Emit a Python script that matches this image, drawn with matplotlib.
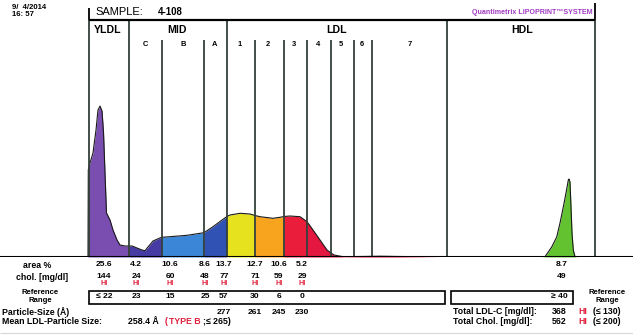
import numpy as np
import matplotlib
matplotlib.use("Agg")
import matplotlib.pyplot as plt
from matplotlib.patches import Rectangle

plt.rcParams['font.family'] = ['Liberation Sans', 'DejaVu Sans']

# densitometry scan (migration position, height above baseline)
scan_x = [88, 88.3, 90, 93, 96, 98, 100, 102, 103.5, 105, 106.5, 110, 113, 117, 120, 125,
          129, 132, 137, 142, 145, 148, 153, 161.5, 170, 187, 204, 213, 223, 227, 230, 240,
          250, 255, 260, 273, 280, 284, 290, 300, 307, 313, 320, 327, 331, 334, 343, 360,
          380, 400, 420, 440]
scan_h = [0, 87, 94, 104, 127, 147, 151, 146, 125, 84, 44, 37, 27, 17, 12, 11,
          11, 11, 9, 7, 6.3, 10, 16, 19.7, 20.3, 21.7, 24.3, 30.3, 37.7, 40.5, 42, 43.7,
          43, 41.5, 40.3, 38.7, 39.7, 40.5, 41, 40.3, 35.3, 27, 17, 7, 4, 2, 0.3, 0.5,
          0.8, 0.5, 0.3, 0]
hdl_x = [540, 545, 551.7, 556.7, 560, 563.3, 566, 568.3, 569, 570, 571, 572, 573.3, 575, 580]
hdl_h = [0, 0.3, 10, 20, 34, 50, 64, 77, 78, 75, 50, 24, 7, 0.3, 0]

# fraction boundaries
major_bounds = [88.5, 129, 227, 447, 595]
minor_bounds = [161.5, 204, 255, 284, 307, 331, 353.5, 371.5]
frac_edges = [88, 129, 161.5, 204, 227, 255, 284, 307, 331, 440]
frac_colors = ['#7a4db0', '#463ba2', '#3c86d8', '#2f52b4', '#e6e21e', '#f9a41e',
               '#ea1d3a', '#e3173f', '#e3173f']

groups = ['YLDL', 'MID', 'LDL', 'HDL']
group_x = [108, 177, 337, 522]
subs = ['C', 'B', 'A', '1', '2', '3', '4', '5', '6', '7']
sub_x = [145, 183, 214, 240, 268, 294, 318, 341, 362, 410]

col_x = [104, 136, 170, 205, 224, 255, 279, 302]
area_pct = ['25.6', '4.2', '10.6', '8.6', '13.7', '12.7', '10.6', '5.2']
chol = ['144', '24', '60', '48', '77', '71', '59', '29']
ref_range = ['\u2264 22', '23', '15', '25', '57', '30', '6', '0']
particle = ['277', '261', '245', '230']
hdl_col = 562
hdl_area, hdl_chol, hdl_ref = '8.7', '49', '\u2265 40'

fig = plt.figure(figsize=(6.33, 3.36), dpi=100)
page = fig.add_axes([0, 0, 1, 1])
page.set_xlim(0, 633)
page.set_ylim(336, 0)
page.axis('off')

scan = fig.add_axes([0, 79 / 336, 1, 257 / 336])
scan.set_xlim(0, 633)
scan.set_ylim(0, 257)
scan.axis('off')

sx = np.array(scan_x)
sh = np.array(scan_h)
for i, c in enumerate(frac_colors):
    m = (sx >= frac_edges[i]) & (sx <= frac_edges[i + 1])
    scan.fill_between(sx[m], 0, sh[m], color=c, lw=0)
scan.plot(sx, sh, color='#1a1a1a', lw=0.8)
scan.fill_between(hdl_x, 0, hdl_h, color='#62c230', lw=0)
scan.plot(hdl_x, hdl_h, color='#1a1a1a', lw=0.8)

# grid of fraction lines
lc = '#34403a'
for b in major_bounds:
    scan.vlines(b, 0, 237, color=lc, lw=1.3)
for b in minor_bounds:
    scan.vlines(b, 0, 217, color=lc, lw=1.3)
scan.vlines(88.5, 237, 249, color='k', lw=1.3)
scan.vlines(595, 237, 254, color='k', lw=1.3)
scan.hlines(237, 88.5, 595, color='k', lw=1.6)
scan.hlines(0, 0, 633, color='k', lw=1.5)
page.hlines(333, 0, 633, color='#d8d8d8', lw=0.8)

for g, x in zip(groups, group_x):
    page.text(x, 30, g, ha='center', va='center', fontsize=7.6, weight='bold')
for s, x in zip(subs, sub_x):
    page.text(x, 44, s, ha='center', va='center', fontsize=5.4, weight='bold')

page.text(12, 7.5, '9/  4/2014', fontsize=5.6, weight='bold', va='center')
page.text(12, 15, '16: 57', fontsize=5.6, weight='bold', va='center')
page.text(95, 12, 'SAMPLE:', fontsize=8, va='center')
page.text(158, 12, '4-108', fontsize=7, weight='bold', va='center')
page.text(593, 12, 'Quantimetrix LIPOPRINT\u2122SYSTEM', fontsize=5.1, weight='bold',
          color='#a03cc0', ha='right', va='center')

# table
fs = 6.1
lab = dict(fontsize=6.3, weight='bold', va='center')
small = dict(fontsize=5.6, weight='bold', va='center', ha='center')
page.text(37, 265, 'area %', ha='center', **lab)
page.text(42, 278, 'chol. [mg/dl]', ha='center', **lab)
page.text(40, 292.5, 'Reference', **small)
page.text(40, 300, 'Range', **small)
page.text(607, 292.5, 'Reference', **small)
page.text(607, 300, 'Range', **small)
num = dict(fontsize=fs, weight='bold', va='center', ha='center')
for x, a, c, r in zip(col_x, area_pct, chol, ref_range):
    page.text(x, 265, a, **num)
    page.text(x, 277, c, **num)
    page.text(x, 283.5, 'HI', ha='center', va='center', fontsize=5.2, color='#e0203c', weight='bold')
    page.text(x, 297, r, **num)
for x, p in zip(col_x[4:], particle):
    page.text(x, 312, p, **num)
page.text(hdl_col, 265, hdl_area, **num)
page.text(hdl_col, 277, hdl_chol, **num)
page.text(568, 297, hdl_ref, ha='right', va='center', fontsize=fs, weight='bold')
page.add_patch(Rectangle((89, 290.5), 356, 13, fill=False, lw=1.2, ec='k'))
page.add_patch(Rectangle((451, 290.5), 122, 13, fill=False, lw=1.2, ec='k'))

page.text(2, 312, 'Particle-Size (\u00c5)', **lab)
page.text(2, 322, 'Mean LDL-Particle Size:', **lab)
page.text(128, 322, '258.4 \u00c5', **lab)
page.text(165, 322, '(', color='#e0203c', **lab)
page.text(169, 322, 'TYPE B', color='#e0203c', **lab)
page.text(203, 322, ';\u2264 265)', **lab)

page.text(453, 312, 'Total LDL-C [mg/dl]:', **lab)
page.text(453, 322, 'Total Chol. [mg/dl]:', **lab)
for y, v, r in [(312, '368', '(\u2264 130)'), (322, '562', '(\u2264 200)')]:
    page.text(552, y, v, **lab)
    page.text(578, y, 'HI', color='#e0203c', **lab)
    page.text(593, y, r, **lab)

fig.savefig('out.png', dpi=100)
